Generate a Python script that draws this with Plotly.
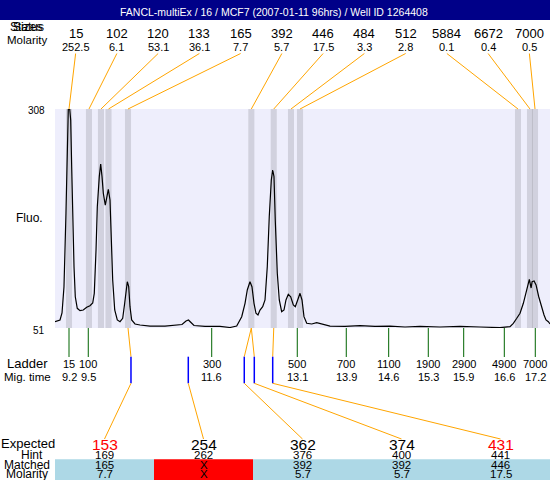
import plotly.graph_objects as go

W, H = 550, 480
FONT = "Liberation Sans, Arial, sans-serif"

TITLE = "FANCL-multiEx / 16 / MCF7 (2007-01-11 96hrs) / Well ID 1264408"

# ---------------- data ----------------
trace_time = [8.960, 9.046, 9.080, 9.114, 9.148, 9.171, 9.188, 9.212, 9.229, 9.246,
              9.264, 9.286, 9.308, 9.342, 9.389, 9.445, 9.504, 9.560, 9.607, 9.634,
              9.664, 9.686, 9.720, 9.744, 9.767, 9.789, 9.823, 9.847, 9.875, 9.904,
              9.926, 9.950, 9.985, 10.029, 10.076, 10.122, 10.156, 10.179, 10.201, 10.225,
              10.247, 10.276, 10.333, 10.419, 10.591, 10.848, 11.020, 11.140, 11.209, 11.251,
              11.294, 11.346, 11.535, 11.792, 11.964, 12.079, 12.165, 12.222, 12.261, 12.307,
              12.341, 12.376, 12.410, 12.444, 12.479, 12.525, 12.565, 12.604, 12.638, 12.673,
              12.697, 12.719, 12.741, 12.776, 12.810, 12.851, 12.891, 12.925, 12.965, 13.006,
              13.051, 13.085, 13.126, 13.166, 13.200, 13.234, 13.281, 13.367, 13.452, 13.538,
              13.681, 13.938, 14.196, 14.453, 14.711, 14.968, 15.226, 15.569, 15.912, 16.256,
              16.599, 16.771, 16.828, 16.887, 16.943, 17.000, 17.047, 17.081, 17.103, 17.133,
              17.150, 17.184, 17.218, 17.264, 17.315, 17.355, 17.389, 17.429, 17.458]
trace_fluo = [58.4, 60.4, 68.6, 99.5, 186.0, 259.9, 308, 308, 295.1, 240.3,
              181.6, 122.9, 87.7, 74.1, 71.3, 72.1, 75.3, 77.2, 80.3, 91.7,
              142.5, 193.3, 228.6, 243.5, 228.6, 209.1, 195.3, 205.1, 213.8, 201.2,
              154.3, 107.3, 72.1, 60.4, 58.4, 62.4, 80.0, 95.6, 105.3, 99.5,
              76.0, 60.4, 55.7, 54.5, 53.3, 53.3, 53.9, 55.1, 59.2, 60.4,
              57.5, 53.9, 52.8, 52.8, 51.6, 53.3, 64.3, 80.0, 95.6, 105.3,
              99.5, 80.0, 68.3, 66.3, 72.1, 76.0, 83.9, 122.9, 181.6, 224.7,
              236.4, 228.6, 177.7, 115.2, 83.9, 70.1, 72.1, 83.9, 90.5, 87.7,
              78.0, 76.0, 83.9, 91.7, 83.9, 64.3, 56.5, 55.7, 57.2, 55.7,
              53.3, 52.8, 53.9, 52.8, 53.3, 52.2, 52.8, 52.2, 52.8, 52.2,
              51.4, 52.5, 56.5, 62.4, 68.3, 80.0, 91.7, 101.5, 108.1, 97.9,
              105.3, 106.2, 101.5, 87.7, 74.1, 66.3, 60.4, 58.4, 55.7]

peak_size = ["15", "102", "120", "133", "165", "392", "446", "484", "512", "5884", "6672", "7000"]
peak_molarity = ["252.5", "6.1", "53.1", "36.1", "7.7", "5.7", "17.5", "3.3", "2.8", "0.1", "0.4", "0.5"]
peak_time = [9.200, 9.543, 9.749, 9.878, 10.213, 12.330, 12.715, 13.011, 13.166, 16.908, 17.114, 17.200]

ladder_size = ["15", "100", "300", "500", "700", "1100", "1900", "2900", "4900", "7000"]
ladder_time = [9.200, 9.531, 11.650, 13.119, 13.960, 14.688, 15.368, 15.976, 16.673, 17.205]
ladder_time_label = ["9.2", "9.5", "11.6", "13.1", "13.9", "14.6", "15.3", "15.9", "16.6", "17.2"]

expected = ["153", "254", "362", "374", "431"]
expected_red = [True, False, False, False, True]
hint = ["169", "262", "376", "400", "441"]
hint_time = [10.264, 11.248, 12.209, 12.381, 12.697]
matched = ["165", "X", "392", "392", "446"]
matched_molarity = ["7.7", "X", "5.7", "5.7", "17.5"]
matched_peak = [4, None, 5, 5, 6]

X_RANGE = [8.9597, 17.4575]
Y_RANGE = [51, 308]
BAND_HALF = 0.052


def py(p):
    return 1 - p / H


def pxf(p):
    return p / W


def slot_t(frac):
    return X_RANGE[0] + frac * (X_RANGE[1] - X_RANGE[0])


fig = go.Figure()
fig.add_trace(go.Scatter(x=trace_time, y=trace_fluo, mode="lines",
                         line=dict(color="black", width=1.2),
                         hoverinfo="skip", showlegend=False))

shapes = []
ann = []


def text(x, y, s, size, xref="paper", color="black", xanchor="center", yanchor="middle", yref="paper"):
    ann.append(dict(x=x, y=y, xref=xref, yref=yref, text=s, showarrow=False,
                    xanchor=xanchor, yanchor=yanchor,
                    font=dict(family=FONT, size=size, color=color)))


# title bar
shapes.append(dict(type="rect", xref="paper", yref="paper", x0=0, x1=1, y0=py(20), y1=1,
                   fillcolor="#000088", line_width=0))
text(pxf(274), py(12), TITLE, 10.5, color="white")

# bands
for t in peak_time:
    shapes.append(dict(type="rect", xref="x", yref="y", x0=t - BAND_HALF, x1=t + BAND_HALF,
                       y0=Y_RANGE[0], y1=Y_RANGE[1], fillcolor="rgba(150,150,158,0.32)",
                       line_width=0, layer="below"))

# top labels + connectors
n = len(peak_size)
for i, (s, m, t) in enumerate(zip(peak_size, peak_molarity, peak_time)):
    f = (i + 0.5) / n
    text(f, py(34), s, 13, xref="x domain")
    text(f, py(46.5), m, 11, xref="x domain")
    shapes.append(dict(type="line", xref="x", yref="paper", x0=slot_t(f), y0=py(53.5),
                       x1=t, y1=py(109), line=dict(color="orange", width=1)))

text(pxf(27), py(27.5), "Sizes", 12)
text(pxf(27), py(27.5), "Status", 12)
text(pxf(27), py(40), "Molarity", 11.5)

# y labels
text(pxf(47), py(111), "308", 10, xanchor="right")
text(pxf(47), py(330), "51", 10, xanchor="right")
text(pxf(29), py(218), "Fluo.", 12)

# ladder
for s, t, lab in zip(ladder_size, ladder_time, ladder_time_label):
    shapes.append(dict(type="line", xref="x", yref="paper", x0=t, x1=t, y0=py(328), y1=py(357),
                       line=dict(color="#006400", width=1)))
    text(t, py(363.5), s, 11, xref="x")
    text(t, py(377), lab, 11, xref="x")
text(pxf(27), py(363.5), "Ladder", 13)
text(pxf(27), py(377), "Mig. time", 11.5)

# expected / hints
ne = len(expected)
for i in range(ne):
    f = (i + 0.5) / ne
    ht = hint_time[i]
    k = matched_peak[i]
    if k is not None:
        shapes.append(dict(type="line", xref="x", yref="paper", x0=peak_time[k], y0=py(328),
                           x1=ht, y1=py(356.7), line=dict(color="orange", width=1)))
    shapes.append(dict(type="line", xref="x", yref="paper", x0=ht, x1=ht, y0=py(356.7), y1=py(383.3),
                       line=dict(color="blue", width=1.5)))
    shapes.append(dict(type="line", xref="x", yref="paper", x0=ht, y0=py(383.3),
                       x1=slot_t(f), y1=py(439), line=dict(color="orange", width=1)))
    shapes.append(dict(type="rect", xref="x domain", yref="paper", x0=i / ne, x1=(i + 1) / ne,
                       y0=0, y1=py(459.3), line_width=0,
                       fillcolor="#FF0000" if matched[i] == "X" else "#ADD8E6"))
    text(f, py(444), expected[i], 15.5, xref="x domain",
         color="#FF0000" if expected_red[i] else "black")
    text(f, py(454.5), hint[i], 11.5, xref="x domain")
    text(f, py(465), matched[i], 11.5, xref="x domain")
    text(f, py(474), matched_molarity[i], 11.5, xref="x domain")

text(pxf(28), py(443.5), "Expected", 13)
text(pxf(32), py(454.5), "Hint", 12)
text(pxf(27), py(465), "Matched", 12)
text(pxf(27), py(474), "Molarity", 12)

fig.update_layout(
    width=W, height=H, margin=dict(l=0, r=0, t=0, b=0),
    paper_bgcolor="white", plot_bgcolor="#EEEEFC",
    xaxis=dict(domain=[pxf(55), 1], range=X_RANGE, visible=False, fixedrange=True),
    yaxis=dict(domain=[py(328), py(109)], range=Y_RANGE, visible=False, fixedrange=True),
    shapes=shapes, annotations=ann, showlegend=False,
    font=dict(family=FONT),
)

fig.write_html("out.html", config={"displayModeBar": False},
               post_script="document.body.style.margin='0';document.body.style.overflow='hidden';")
